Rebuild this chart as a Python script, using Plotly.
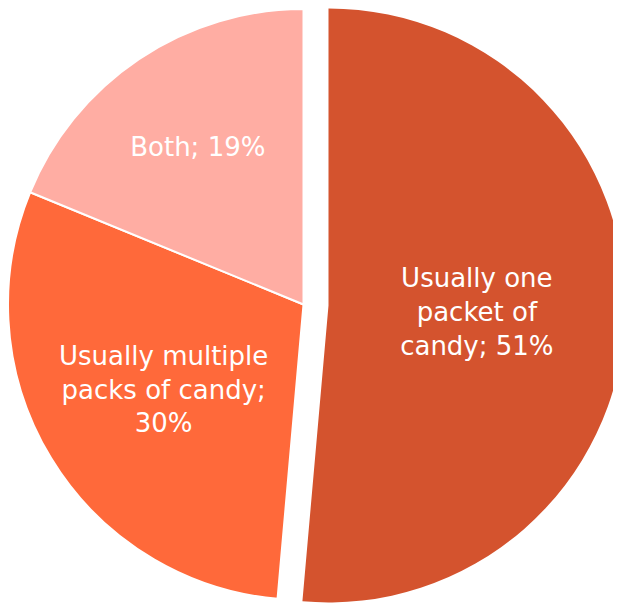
import plotly.graph_objects as go

# Data
labels = ["Usually one packet of candy", "Usually multiple packs of candy", "Both"]
display_labels = ["Usually one<br>packet of<br>candy", "Usually multiple<br>packs of candy;", "Both"]
values = [51.4, 29.8, 18.8]
colors = ["#D4532E", "#FF693A", "#FFADA3"]
exploded = [True, False, False]

W, H = 621, 605
OFF = 8  # page body margin offset
FONT = "DejaVu Sans"

def text_for(i, show):
    if not show:
        return ""
    lab = display_labels[i]
    sep = "<br>" if lab.endswith(";") else "; "
    return lab + sep + "%{percent:.0%}"

tmplA = [text_for(i, not exploded[i]) for i in range(len(values))]
colA = [("rgba(0,0,0,0)" if exploded[i] else colors[i]) for i in range(len(values))]
tmplB = [text_for(i, exploded[i]) for i in range(len(values))]
colB = [(colors[i] if exploded[i] else "rgba(0,0,0,0)") for i in range(len(values))]

def dom(cx, cy, r):
    cx -= OFF
    cy -= OFF
    r = min(r, cx, W - cx, cy, H - cy)
    return dict(x=[(cx - r) / W, (cx + r) / W],
                y=[(H - cy - r) / H, (H - cy + r) / H])

fig = go.Figure()
fig.add_trace(go.Pie(
    labels=labels, values=values, sort=False, direction="clockwise", rotation=0,
    marker=dict(colors=colA, line=dict(color="white", width=2)),
    texttemplate=tmplA, textposition="inside", insidetextorientation="horizontal",
    textfont=dict(family=FONT, size=26, color="white"),
    hoverinfo="none", showlegend=False, domain=dom(303.5, 304.5, 297.5),
))
fig.add_trace(go.Pie(
    labels=labels, values=values, sort=False, direction="clockwise", rotation=0,
    marker=dict(colors=colB, line=dict(color="rgba(0,0,0,0)", width=0)),
    texttemplate=tmplB, textposition="inside", insidetextorientation="horizontal",
    textfont=dict(family=FONT, size=26, color="white"),
    hoverinfo="none", showlegend=False, domain=dom(328.5, 305.5, 297.0),
))
fig.update_layout(width=W, height=H, margin=dict(l=0, r=0, t=0, b=0),
                  paper_bgcolor="white", plot_bgcolor="white", showlegend=False)
fig.write_html("out.html")
